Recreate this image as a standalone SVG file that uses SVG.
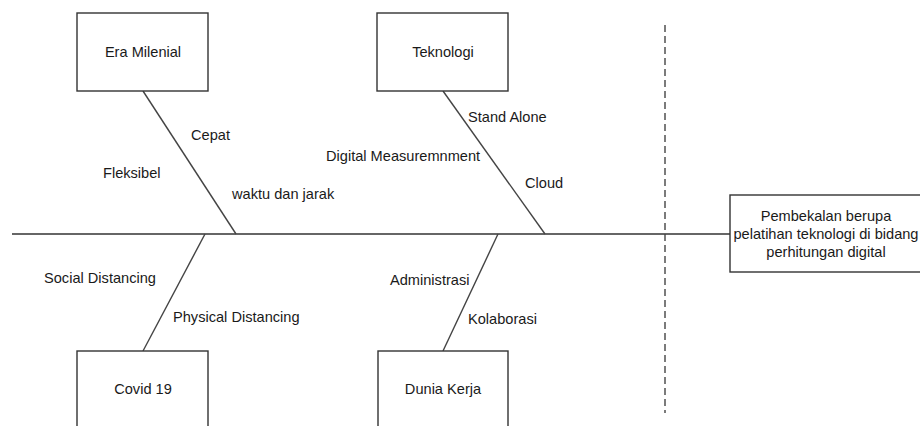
<svg xmlns="http://www.w3.org/2000/svg" width="920" height="426" viewBox="0 0 920 426">
<style>
.box{fill:#fff;stroke:#333;stroke-width:1.4}
.ln{stroke:#444;stroke-width:1.4;fill:none}
.spine{stroke:#666;stroke-width:1.8;fill:none}
.dash{stroke:#444;stroke-width:1.4;stroke-dasharray:7 4;fill:none}
text{font-family:"Liberation Sans",Arial,sans-serif;font-size:14.6px;fill:#1a1a1a}
.c{text-anchor:middle}
</style>
<rect width="920" height="426" fill="#fff"/>
<g id="connectors">
<line class="spine" x1="12" y1="234" x2="730" y2="234"/>
<line class="ln" x1="143" y1="91" x2="236" y2="234"/>
<line class="ln" x1="443" y1="91" x2="545" y2="234"/>
<line class="ln" x1="205" y1="234" x2="143" y2="351"/>
<line class="ln" x1="498" y1="234" x2="443" y2="351"/>
<line class="dash" x1="665" y1="25" x2="665" y2="413"/>
</g>
<g id="era-milenial">
<rect class="box" x="77" y="13" width="131" height="78"/>
<text class="c" x="143" y="57">Era Milenial</text>
</g>
<g id="teknologi">
<rect class="box" x="377" y="13" width="131" height="78"/>
<text class="c" x="443" y="57">Teknologi</text>
</g>
<g id="covid19">
<rect class="box" x="77" y="351" width="131" height="90"/>
<text class="c" x="143" y="394">Covid 19</text>
</g>
<g id="dunia-kerja">
<rect class="box" x="378" y="351" width="130" height="90"/>
<text class="c" x="443" y="394">Dunia Kerja</text>
</g>
<g id="hasil">
<rect class="box" x="730" y="195" width="191" height="77"/>
<text class="c" x="826" y="221">Pembekalan berupa</text>
<text class="c" x="826" y="239">pelatihan teknologi di bidang</text>
<text class="c" x="826" y="257">perhitungan digital</text>
</g>
<g id="labels">
<text x="191" y="140">Cepat</text>
<text x="103" y="178">Fleksibel</text>
<text x="232" y="199">waktu dan jarak</text>
<text x="468" y="122">Stand Alone</text>
<text x="326" y="161">Digital Measuremnment</text>
<text x="525" y="188">Cloud</text>
<text x="44" y="283">Social Distancing</text>
<text x="173" y="322">Physical Distancing</text>
<text x="390" y="285">Administrasi</text>
<text x="468" y="324">Kolaborasi</text>
</g>
</svg>
